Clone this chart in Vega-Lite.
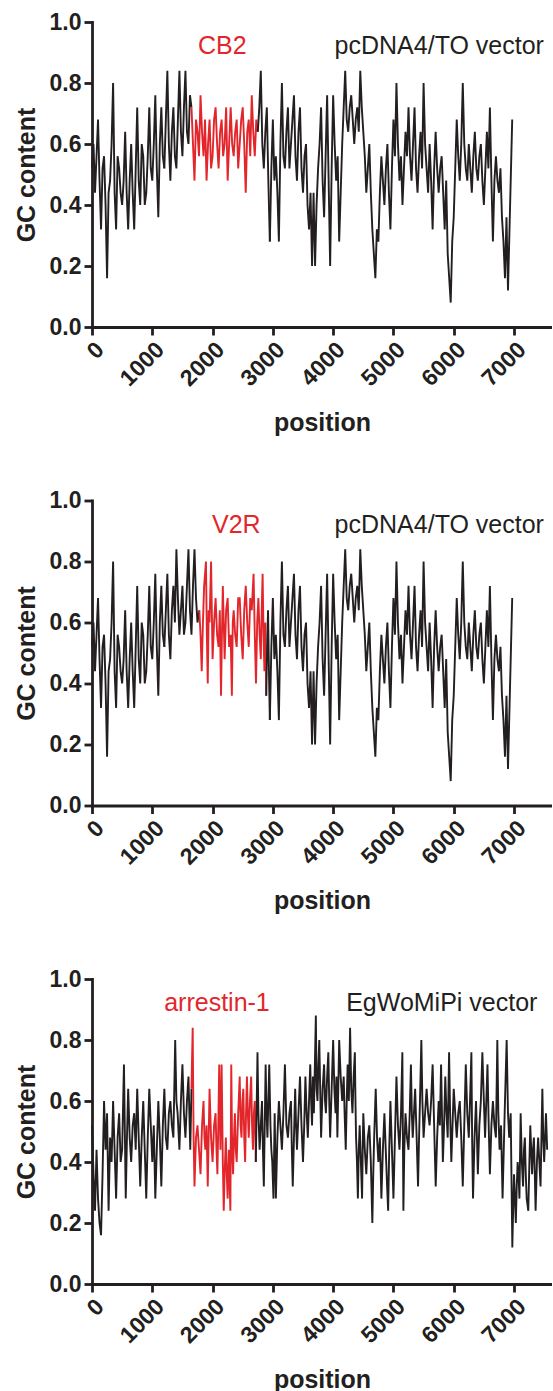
{
  "$schema": "https://vega.github.io/schema/vega-lite/v6.json",
  "padding": {"left": 14, "top": 11, "right": 0, "bottom": 0},
  "bounds": "flush",
  "spacing": 173.5,
  "config": {
    "font": "Liberation Sans",
    "view": {"stroke": null},
    "axis": {
      "grid": false,
      "domainColor": "#231f20", "domainWidth": 2.8, "domainCap": "square",
      "tickColor": "#231f20", "tickWidth": 2.8, "tickSize": 8,
      "labelFont": "Liberation Sans", "labelFontWeight": "bold", "labelFontSize": 23, "labelColor": "#231f20", "labelPadding": 3,
      "titleFont": "Liberation Sans", "titleFontWeight": "bold", "titleFontSize": 25, "titleColor": "#231f20"
    }
  },
  "datasets": {
    "pcHead": [
      {"x":0,"y":0.52,"s":"a"},{"x":25,"y":0.6,"s":"a"},{"x":50,"y":0.44,"s":"a"},{"x":75,"y":0.56,"s":"a"},{"x":100,"y":0.68,"s":"a"},{"x":125,"y":0.48,"s":"a"},{"x":150,"y":0.32,"s":"a"},{"x":175,"y":0.52,"s":"a"},{"x":200,"y":0.56,"s":"a"},{"x":225,"y":0.4,"s":"a"},{"x":250,"y":0.16,"s":"a"},{"x":275,"y":0.44,"s":"a"},{"x":300,"y":0.48,"s":"a"},{"x":325,"y":0.6,"s":"a"},{"x":350,"y":0.8,"s":"a"},{"x":375,"y":0.44,"s":"a"},{"x":400,"y":0.32,"s":"a"},{"x":425,"y":0.56,"s":"a"},{"x":450,"y":0.52,"s":"a"},{"x":475,"y":0.44,"s":"a"},{"x":500,"y":0.4,"s":"a"},{"x":525,"y":0.48,"s":"a"},{"x":550,"y":0.64,"s":"a"},{"x":575,"y":0.44,"s":"a"},{"x":600,"y":0.32,"s":"a"},{"x":625,"y":0.48,"s":"a"},{"x":650,"y":0.6,"s":"a"},{"x":675,"y":0.44,"s":"a"},{"x":700,"y":0.32,"s":"a"},{"x":725,"y":0.52,"s":"a"},{"x":750,"y":0.72,"s":"a"},{"x":775,"y":0.48,"s":"a"},{"x":800,"y":0.4,"s":"a"},{"x":825,"y":0.6,"s":"a"},{"x":850,"y":0.56,"s":"a"},{"x":875,"y":0.4,"s":"a"},{"x":900,"y":0.44,"s":"a"},{"x":925,"y":0.56,"s":"a"},{"x":950,"y":0.72,"s":"a"},{"x":975,"y":0.52,"s":"a"},{"x":1000,"y":0.48,"s":"a"},{"x":1025,"y":0.6,"s":"a"},{"x":1050,"y":0.76,"s":"a"},{"x":1075,"y":0.52,"s":"a"},{"x":1100,"y":0.36,"s":"a"},{"x":1125,"y":0.6,"s":"a"},{"x":1150,"y":0.72,"s":"a"},{"x":1175,"y":0.56,"s":"a"},{"x":1200,"y":0.52,"s":"a"}
    ],
    "cb2Mid": [
      {"x":1200,"y":0.52,"s":"a"},{"x":1225,"y":0.68,"s":"a"},{"x":1250,"y":0.84,"s":"a"},{"x":1275,"y":0.6,"s":"a"},{"x":1300,"y":0.48,"s":"a"},{"x":1325,"y":0.64,"s":"a"},{"x":1350,"y":0.72,"s":"a"},{"x":1375,"y":0.56,"s":"a"},{"x":1400,"y":0.52,"s":"a"},{"x":1425,"y":0.68,"s":"a"},{"x":1450,"y":0.84,"s":"a"},{"x":1475,"y":0.64,"s":"a"},{"x":1500,"y":0.56,"s":"a"},{"x":1525,"y":0.72,"s":"a"},{"x":1550,"y":0.84,"s":"a"},{"x":1575,"y":0.64,"s":"a"},{"x":1600,"y":0.6,"s":"a"},{"x":1625,"y":0.76,"s":"a"},{"x":1650,"y":0.72,"s":"a"},
      {"x":1650,"y":0.72,"s":"r"},{"x":1675,"y":0.6,"s":"r"},{"x":1700,"y":0.48,"s":"r"},{"x":1725,"y":0.68,"s":"r"},{"x":1750,"y":0.64,"s":"r"},{"x":1775,"y":0.56,"s":"r"},{"x":1800,"y":0.76,"s":"r"},{"x":1825,"y":0.64,"s":"r"},{"x":1850,"y":0.56,"s":"r"},{"x":1875,"y":0.68,"s":"r"},{"x":1900,"y":0.48,"s":"r"},{"x":1925,"y":0.6,"s":"r"},{"x":1950,"y":0.68,"s":"r"},{"x":1975,"y":0.52,"s":"r"},{"x":2000,"y":0.56,"s":"r"},{"x":2025,"y":0.68,"s":"r"},{"x":2050,"y":0.72,"s":"r"},{"x":2075,"y":0.6,"s":"r"},{"x":2100,"y":0.52,"s":"r"},{"x":2125,"y":0.64,"s":"r"},{"x":2150,"y":0.68,"s":"r"},{"x":2175,"y":0.56,"s":"r"},{"x":2200,"y":0.6,"s":"r"},{"x":2225,"y":0.72,"s":"r"},{"x":2250,"y":0.48,"s":"r"},{"x":2275,"y":0.6,"s":"r"},{"x":2300,"y":0.72,"s":"r"},{"x":2325,"y":0.6,"s":"r"},{"x":2350,"y":0.56,"s":"r"},{"x":2375,"y":0.64,"s":"r"},{"x":2400,"y":0.68,"s":"r"},{"x":2425,"y":0.52,"s":"r"},{"x":2450,"y":0.6,"s":"r"},{"x":2475,"y":0.68,"s":"r"},{"x":2500,"y":0.72,"s":"r"},{"x":2525,"y":0.6,"s":"r"},{"x":2550,"y":0.44,"s":"r"},{"x":2575,"y":0.64,"s":"r"},{"x":2600,"y":0.68,"s":"r"},{"x":2625,"y":0.56,"s":"r"},{"x":2650,"y":0.76,"s":"r"},{"x":2675,"y":0.64,"s":"r"},{"x":2700,"y":0.56,"s":"r"},{"x":2725,"y":0.68,"s":"r"},{"x":2750,"y":0.64,"s":"r"},
      {"x":2750,"y":0.64,"s":"b"},{"x":2775,"y":0.72,"s":"b"},{"x":2800,"y":0.84,"s":"b"},{"x":2825,"y":0.6,"s":"b"},{"x":2850,"y":0.52,"s":"b"},{"x":2875,"y":0.64,"s":"b"},{"x":2900,"y":0.72,"s":"b"},{"x":2925,"y":0.48,"s":"b"},{"x":2950,"y":0.28,"s":"b"}
    ],
    "v2rMid": [
      {"x":1200,"y":0.52,"s":"a"},{"x":1225,"y":0.64,"s":"a"},{"x":1250,"y":0.76,"s":"a"},{"x":1275,"y":0.56,"s":"a"},{"x":1300,"y":0.48,"s":"a"},{"x":1325,"y":0.64,"s":"a"},{"x":1350,"y":0.72,"s":"a"},{"x":1375,"y":0.6,"s":"a"},{"x":1400,"y":0.84,"s":"a"},{"x":1425,"y":0.68,"s":"a"},{"x":1450,"y":0.56,"s":"a"},{"x":1475,"y":0.64,"s":"a"},{"x":1500,"y":0.72,"s":"a"},{"x":1525,"y":0.56,"s":"a"},{"x":1550,"y":0.6,"s":"a"},{"x":1575,"y":0.72,"s":"a"},{"x":1600,"y":0.84,"s":"a"},{"x":1625,"y":0.64,"s":"a"},{"x":1650,"y":0.56,"s":"a"},{"x":1675,"y":0.72,"s":"a"},{"x":1700,"y":0.84,"s":"a"},{"x":1725,"y":0.68,"s":"a"},{"x":1750,"y":0.6,"s":"a"},{"x":1780,"y":0.64,"s":"a"},
      {"x":1780,"y":0.64,"s":"r"},{"x":1800,"y":0.56,"s":"r"},{"x":1820,"y":0.44,"s":"r"},{"x":1840,"y":0.6,"s":"r"},{"x":1860,"y":0.72,"s":"r"},{"x":1890,"y":0.8,"s":"r"},{"x":1905,"y":0.56,"s":"r"},{"x":1920,"y":0.4,"s":"r"},{"x":1935,"y":0.64,"s":"r"},{"x":1950,"y":0.6,"s":"r"},{"x":1975,"y":0.8,"s":"r"},{"x":2000,"y":0.48,"s":"r"},{"x":2025,"y":0.6,"s":"r"},{"x":2050,"y":0.68,"s":"r"},{"x":2075,"y":0.56,"s":"r"},{"x":2100,"y":0.52,"s":"r"},{"x":2120,"y":0.64,"s":"r"},{"x":2140,"y":0.36,"s":"r"},{"x":2155,"y":0.56,"s":"r"},{"x":2170,"y":0.72,"s":"r"},{"x":2185,"y":0.6,"s":"r"},{"x":2200,"y":0.48,"s":"r"},{"x":2225,"y":0.64,"s":"r"},{"x":2250,"y":0.68,"s":"r"},{"x":2275,"y":0.52,"s":"r"},{"x":2300,"y":0.56,"s":"r"},{"x":2320,"y":0.36,"s":"r"},{"x":2335,"y":0.6,"s":"r"},{"x":2350,"y":0.64,"s":"r"},{"x":2375,"y":0.56,"s":"r"},{"x":2400,"y":0.52,"s":"r"},{"x":2425,"y":0.68,"s":"r"},{"x":2450,"y":0.68,"s":"r"},{"x":2475,"y":0.56,"s":"r"},{"x":2500,"y":0.48,"s":"r"},{"x":2525,"y":0.64,"s":"r"},{"x":2550,"y":0.72,"s":"r"},{"x":2575,"y":0.6,"s":"r"},{"x":2600,"y":0.52,"s":"r"},{"x":2625,"y":0.68,"s":"r"},{"x":2650,"y":0.64,"s":"r"},{"x":2680,"y":0.76,"s":"r"},{"x":2700,"y":0.56,"s":"r"},{"x":2720,"y":0.4,"s":"r"},{"x":2740,"y":0.6,"s":"r"},{"x":2760,"y":0.68,"s":"r"},{"x":2780,"y":0.56,"s":"r"},{"x":2800,"y":0.48,"s":"r"},{"x":2815,"y":0.64,"s":"r"},{"x":2830,"y":0.76,"s":"r"},{"x":2845,"y":0.56,"s":"r"},{"x":2860,"y":0.44,"s":"r"},{"x":2875,"y":0.6,"s":"r"},{"x":2890,"y":0.36,"s":"r"},
      {"x":2890,"y":0.36,"s":"b"},{"x":2905,"y":0.52,"s":"b"},{"x":2920,"y":0.64,"s":"b"},{"x":2935,"y":0.44,"s":"b"},{"x":2950,"y":0.28,"s":"b"}
    ],
    "pcTail": [
      {"x":2950,"y":0.28,"s":"b"},{"x":2975,"y":0.52,"s":"b"},{"x":3000,"y":0.68,"s":"b"},{"x":3025,"y":0.48,"s":"b"},{"x":3050,"y":0.56,"s":"b"},{"x":3075,"y":0.44,"s":"b"},{"x":3100,"y":0.28,"s":"b"},{"x":3125,"y":0.6,"s":"b"},{"x":3150,"y":0.8,"s":"b"},{"x":3175,"y":0.56,"s":"b"},{"x":3200,"y":0.52,"s":"b"},{"x":3225,"y":0.64,"s":"b"},{"x":3250,"y":0.72,"s":"b"},{"x":3275,"y":0.52,"s":"b"},{"x":3300,"y":0.6,"s":"b"},{"x":3325,"y":0.68,"s":"b"},{"x":3350,"y":0.76,"s":"b"},{"x":3375,"y":0.56,"s":"b"},{"x":3400,"y":0.48,"s":"b"},{"x":3425,"y":0.64,"s":"b"},{"x":3450,"y":0.72,"s":"b"},{"x":3475,"y":0.52,"s":"b"},{"x":3500,"y":0.44,"s":"b"},{"x":3525,"y":0.56,"s":"b"},{"x":3550,"y":0.6,"s":"b"},{"x":3575,"y":0.4,"s":"b"},{"x":3600,"y":0.32,"s":"b"},{"x":3625,"y":0.44,"s":"b"},{"x":3650,"y":0.2,"s":"b"},{"x":3675,"y":0.44,"s":"b"},{"x":3700,"y":0.2,"s":"b"},{"x":3725,"y":0.4,"s":"b"},{"x":3750,"y":0.52,"s":"b"},{"x":3775,"y":0.6,"s":"b"},{"x":3800,"y":0.72,"s":"b"},{"x":3825,"y":0.48,"s":"b"},{"x":3850,"y":0.36,"s":"b"},{"x":3875,"y":0.56,"s":"b"},{"x":3900,"y":0.76,"s":"b"},{"x":3925,"y":0.48,"s":"b"},{"x":3950,"y":0.2,"s":"b"},{"x":3975,"y":0.52,"s":"b"},{"x":4000,"y":0.76,"s":"b"},{"x":4025,"y":0.6,"s":"b"},{"x":4050,"y":0.48,"s":"b"},{"x":4075,"y":0.56,"s":"b"},{"x":4100,"y":0.28,"s":"b"},{"x":4125,"y":0.44,"s":"b"},{"x":4150,"y":0.6,"s":"b"},{"x":4175,"y":0.72,"s":"b"},{"x":4200,"y":0.84,"s":"b"},{"x":4225,"y":0.68,"s":"b"},{"x":4250,"y":0.64,"s":"b"},{"x":4275,"y":0.72,"s":"b"},{"x":4300,"y":0.76,"s":"b"},{"x":4325,"y":0.68,"s":"b"},{"x":4350,"y":0.6,"s":"b"},{"x":4375,"y":0.68,"s":"b"},{"x":4400,"y":0.72,"s":"b"},{"x":4425,"y":0.64,"s":"b"},{"x":4450,"y":0.84,"s":"b"},{"x":4475,"y":0.72,"s":"b"},{"x":4500,"y":0.64,"s":"b"},{"x":4525,"y":0.56,"s":"b"},{"x":4550,"y":0.44,"s":"b"},{"x":4575,"y":0.52,"s":"b"},{"x":4600,"y":0.6,"s":"b"},{"x":4625,"y":0.44,"s":"b"},{"x":4650,"y":0.32,"s":"b"},{"x":4675,"y":0.24,"s":"b"},{"x":4700,"y":0.16,"s":"b"},{"x":4725,"y":0.32,"s":"b"},{"x":4750,"y":0.28,"s":"b"},{"x":4775,"y":0.44,"s":"b"},{"x":4800,"y":0.56,"s":"b"},{"x":4825,"y":0.48,"s":"b"},{"x":4850,"y":0.4,"s":"b"},{"x":4875,"y":0.52,"s":"b"},{"x":4900,"y":0.6,"s":"b"},{"x":4925,"y":0.44,"s":"b"},{"x":4950,"y":0.32,"s":"b"},{"x":4975,"y":0.52,"s":"b"},{"x":5000,"y":0.68,"s":"b"},{"x":5025,"y":0.56,"s":"b"},{"x":5050,"y":0.8,"s":"b"},{"x":5075,"y":0.6,"s":"b"},{"x":5100,"y":0.48,"s":"b"},{"x":5125,"y":0.56,"s":"b"},{"x":5150,"y":0.4,"s":"b"},{"x":5175,"y":0.52,"s":"b"},{"x":5200,"y":0.64,"s":"b"},{"x":5225,"y":0.56,"s":"b"},{"x":5250,"y":0.72,"s":"b"},{"x":5275,"y":0.56,"s":"b"},{"x":5300,"y":0.48,"s":"b"},{"x":5325,"y":0.6,"s":"b"},{"x":5350,"y":0.72,"s":"b"},{"x":5375,"y":0.52,"s":"b"},{"x":5400,"y":0.44,"s":"b"},{"x":5425,"y":0.56,"s":"b"},{"x":5450,"y":0.64,"s":"b"},{"x":5475,"y":0.52,"s":"b"},{"x":5500,"y":0.8,"s":"b"},{"x":5525,"y":0.6,"s":"b"},{"x":5550,"y":0.52,"s":"b"},{"x":5575,"y":0.44,"s":"b"},{"x":5600,"y":0.6,"s":"b"},{"x":5625,"y":0.48,"s":"b"},{"x":5650,"y":0.32,"s":"b"},{"x":5675,"y":0.52,"s":"b"},{"x":5700,"y":0.64,"s":"b"},{"x":5725,"y":0.52,"s":"b"},{"x":5750,"y":0.44,"s":"b"},{"x":5775,"y":0.52,"s":"b"},{"x":5800,"y":0.56,"s":"b"},{"x":5825,"y":0.44,"s":"b"},{"x":5850,"y":0.32,"s":"b"},{"x":5875,"y":0.48,"s":"b"},{"x":5900,"y":0.24,"s":"b"},{"x":5925,"y":0.16,"s":"b"},{"x":5950,"y":0.08,"s":"b"},{"x":5975,"y":0.28,"s":"b"},{"x":6000,"y":0.36,"s":"b"},{"x":6025,"y":0.52,"s":"b"},{"x":6050,"y":0.68,"s":"b"},{"x":6075,"y":0.56,"s":"b"},{"x":6100,"y":0.48,"s":"b"},{"x":6125,"y":0.6,"s":"b"},{"x":6150,"y":0.8,"s":"b"},{"x":6175,"y":0.6,"s":"b"},{"x":6200,"y":0.52,"s":"b"},{"x":6225,"y":0.48,"s":"b"},{"x":6250,"y":0.6,"s":"b"},{"x":6275,"y":0.52,"s":"b"},{"x":6300,"y":0.44,"s":"b"},{"x":6325,"y":0.56,"s":"b"},{"x":6350,"y":0.64,"s":"b"},{"x":6375,"y":0.52,"s":"b"},{"x":6400,"y":0.48,"s":"b"},{"x":6425,"y":0.56,"s":"b"},{"x":6450,"y":0.6,"s":"b"},{"x":6475,"y":0.48,"s":"b"},{"x":6500,"y":0.4,"s":"b"},{"x":6525,"y":0.52,"s":"b"},{"x":6550,"y":0.64,"s":"b"},{"x":6575,"y":0.52,"s":"b"},{"x":6600,"y":0.72,"s":"b"},{"x":6625,"y":0.48,"s":"b"},{"x":6650,"y":0.28,"s":"b"},{"x":6675,"y":0.48,"s":"b"},{"x":6700,"y":0.56,"s":"b"},{"x":6725,"y":0.48,"s":"b"},{"x":6750,"y":0.44,"s":"b"},{"x":6775,"y":0.52,"s":"b"},{"x":6800,"y":0.36,"s":"b"},{"x":6825,"y":0.28,"s":"b"},{"x":6850,"y":0.16,"s":"b"},{"x":6875,"y":0.36,"s":"b"},{"x":6900,"y":0.12,"s":"b"},{"x":6925,"y":0.32,"s":"b"},{"x":6950,"y":0.52,"s":"b"},{"x":6970,"y":0.68,"s":"b"}
    ],
    "arr": [
      {"x":0,"y":0.52,"s":"a"},{"x":25,"y":0.36,"s":"a"},{"x":50,"y":0.24,"s":"a"},{"x":75,"y":0.44,"s":"a"},{"x":100,"y":0.28,"s":"a"},{"x":125,"y":0.2,"s":"a"},{"x":150,"y":0.16,"s":"a"},{"x":175,"y":0.36,"s":"a"},{"x":200,"y":0.6,"s":"a"},{"x":225,"y":0.44,"s":"a"},{"x":250,"y":0.56,"s":"a"},{"x":275,"y":0.24,"s":"a"},{"x":300,"y":0.48,"s":"a"},{"x":325,"y":0.4,"s":"a"},{"x":350,"y":0.6,"s":"a"},{"x":375,"y":0.44,"s":"a"},{"x":400,"y":0.28,"s":"a"},{"x":425,"y":0.48,"s":"a"},{"x":450,"y":0.56,"s":"a"},{"x":475,"y":0.4,"s":"a"},{"x":500,"y":0.44,"s":"a"},{"x":530,"y":0.72,"s":"a"},{"x":560,"y":0.28,"s":"a"},{"x":580,"y":0.48,"s":"a"},{"x":600,"y":0.64,"s":"a"},{"x":625,"y":0.48,"s":"a"},{"x":650,"y":0.4,"s":"a"},{"x":675,"y":0.52,"s":"a"},{"x":700,"y":0.56,"s":"a"},{"x":725,"y":0.44,"s":"a"},{"x":750,"y":0.64,"s":"a"},{"x":775,"y":0.48,"s":"a"},{"x":800,"y":0.32,"s":"a"},{"x":825,"y":0.48,"s":"a"},{"x":850,"y":0.6,"s":"a"},{"x":875,"y":0.44,"s":"a"},{"x":900,"y":0.28,"s":"a"},{"x":925,"y":0.48,"s":"a"},{"x":950,"y":0.64,"s":"a"},{"x":975,"y":0.52,"s":"a"},{"x":1000,"y":0.4,"s":"a"},{"x":1025,"y":0.52,"s":"a"},{"x":1050,"y":0.28,"s":"a"},{"x":1075,"y":0.44,"s":"a"},{"x":1100,"y":0.6,"s":"a"},{"x":1125,"y":0.48,"s":"a"},{"x":1150,"y":0.32,"s":"a"},{"x":1175,"y":0.52,"s":"a"},{"x":1200,"y":0.64,"s":"a"},{"x":1225,"y":0.48,"s":"a"},{"x":1250,"y":0.44,"s":"a"},{"x":1275,"y":0.56,"s":"a"},{"x":1300,"y":0.6,"s":"a"},{"x":1325,"y":0.52,"s":"a"},{"x":1350,"y":0.48,"s":"a"},{"x":1380,"y":0.8,"s":"a"},{"x":1400,"y":0.6,"s":"a"},{"x":1420,"y":0.56,"s":"a"},{"x":1450,"y":0.44,"s":"a"},{"x":1475,"y":0.6,"s":"a"},{"x":1500,"y":0.72,"s":"a"},{"x":1525,"y":0.56,"s":"a"},{"x":1550,"y":0.48,"s":"a"},{"x":1575,"y":0.6,"s":"a"},{"x":1600,"y":0.68,"s":"a"},{"x":1630,"y":0.44,"s":"a"},{"x":1650,"y":0.64,"s":"a"},
      {"x":1650,"y":0.64,"s":"r"},{"x":1670,"y":0.84,"s":"r"},{"x":1685,"y":0.48,"s":"r"},{"x":1700,"y":0.32,"s":"r"},{"x":1725,"y":0.48,"s":"r"},{"x":1750,"y":0.52,"s":"r"},{"x":1775,"y":0.44,"s":"r"},{"x":1800,"y":0.36,"s":"r"},{"x":1825,"y":0.52,"s":"r"},{"x":1850,"y":0.6,"s":"r"},{"x":1865,"y":0.48,"s":"r"},{"x":1880,"y":0.44,"s":"r"},{"x":1900,"y":0.52,"s":"r"},{"x":1920,"y":0.32,"s":"r"},{"x":1935,"y":0.48,"s":"r"},{"x":1950,"y":0.64,"s":"r"},{"x":1975,"y":0.48,"s":"r"},{"x":2000,"y":0.4,"s":"r"},{"x":2025,"y":0.52,"s":"r"},{"x":2050,"y":0.56,"s":"r"},{"x":2065,"y":0.44,"s":"r"},{"x":2080,"y":0.36,"s":"r"},{"x":2095,"y":0.52,"s":"r"},{"x":2110,"y":0.72,"s":"r"},{"x":2130,"y":0.44,"s":"r"},{"x":2150,"y":0.72,"s":"r"},{"x":2170,"y":0.4,"s":"r"},{"x":2185,"y":0.24,"s":"r"},{"x":2200,"y":0.36,"s":"r"},{"x":2220,"y":0.48,"s":"r"},{"x":2235,"y":0.36,"s":"r"},{"x":2250,"y":0.28,"s":"r"},{"x":2270,"y":0.44,"s":"r"},{"x":2285,"y":0.32,"s":"r"},{"x":2295,"y":0.24,"s":"r"},{"x":2310,"y":0.72,"s":"r"},{"x":2325,"y":0.44,"s":"r"},{"x":2340,"y":0.36,"s":"r"},{"x":2355,"y":0.48,"s":"r"},{"x":2370,"y":0.56,"s":"r"},{"x":2385,"y":0.44,"s":"r"},{"x":2400,"y":0.4,"s":"r"},{"x":2425,"y":0.56,"s":"r"},{"x":2450,"y":0.68,"s":"r"},{"x":2465,"y":0.52,"s":"r"},{"x":2480,"y":0.48,"s":"r"},{"x":2495,"y":0.6,"s":"r"},{"x":2510,"y":0.64,"s":"r"},{"x":2525,"y":0.48,"s":"r"},{"x":2540,"y":0.4,"s":"r"},{"x":2555,"y":0.56,"s":"r"},{"x":2570,"y":0.68,"s":"r"},{"x":2585,"y":0.56,"s":"r"},{"x":2600,"y":0.48,"s":"r"},{"x":2620,"y":0.6,"s":"r"},{"x":2640,"y":0.68,"s":"r"},{"x":2655,"y":0.52,"s":"r"},{"x":2670,"y":0.44,"s":"r"},{"x":2685,"y":0.56,"s":"r"},{"x":2700,"y":0.6,"s":"r"},{"x":2717,"y":0.4,"s":"r"},
      {"x":2717,"y":0.4,"s":"b"},{"x":2745,"y":0.76,"s":"b"},{"x":2760,"y":0.56,"s":"b"},{"x":2780,"y":0.44,"s":"b"},{"x":2800,"y":0.52,"s":"b"},{"x":2820,"y":0.6,"s":"b"},{"x":2835,"y":0.44,"s":"b"},{"x":2850,"y":0.32,"s":"b"},{"x":2865,"y":0.52,"s":"b"},{"x":2880,"y":0.72,"s":"b"},{"x":2895,"y":0.56,"s":"b"},{"x":2910,"y":0.48,"s":"b"},{"x":2925,"y":0.6,"s":"b"},{"x":2940,"y":0.72,"s":"b"},{"x":2960,"y":0.52,"s":"b"},{"x":2975,"y":0.44,"s":"b"},{"x":2990,"y":0.4,"s":"b"},{"x":3010,"y":0.28,"s":"b"},{"x":3030,"y":0.56,"s":"b"},{"x":3050,"y":0.28,"s":"b"},{"x":3075,"y":0.48,"s":"b"},{"x":3100,"y":0.6,"s":"b"},{"x":3125,"y":0.52,"s":"b"},{"x":3150,"y":0.44,"s":"b"},{"x":3175,"y":0.56,"s":"b"},{"x":3200,"y":0.72,"s":"b"},{"x":3225,"y":0.52,"s":"b"},{"x":3250,"y":0.48,"s":"b"},{"x":3275,"y":0.56,"s":"b"},{"x":3300,"y":0.6,"s":"b"},{"x":3315,"y":0.44,"s":"b"},{"x":3330,"y":0.32,"s":"b"},{"x":3350,"y":0.48,"s":"b"},{"x":3370,"y":0.64,"s":"b"},{"x":3385,"y":0.52,"s":"b"},{"x":3400,"y":0.44,"s":"b"},{"x":3425,"y":0.56,"s":"b"},{"x":3450,"y":0.68,"s":"b"},{"x":3475,"y":0.52,"s":"b"},{"x":3500,"y":0.4,"s":"b"},{"x":3520,"y":0.52,"s":"b"},{"x":3540,"y":0.68,"s":"b"},{"x":3560,"y":0.56,"s":"b"},{"x":3580,"y":0.48,"s":"b"},{"x":3600,"y":0.6,"s":"b"},{"x":3620,"y":0.72,"s":"b"},{"x":3635,"y":0.6,"s":"b"},{"x":3650,"y":0.52,"s":"b"},{"x":3665,"y":0.68,"s":"b"},{"x":3680,"y":0.56,"s":"b"},{"x":3697,"y":0.72,"s":"b"},{"x":3713,"y":0.88,"s":"b"},{"x":3725,"y":0.64,"s":"b"},{"x":3740,"y":0.6,"s":"b"},{"x":3755,"y":0.72,"s":"b"},{"x":3770,"y":0.8,"s":"b"},{"x":3785,"y":0.64,"s":"b"},{"x":3800,"y":0.48,"s":"b"},{"x":3825,"y":0.64,"s":"b"},{"x":3850,"y":0.72,"s":"b"},{"x":3865,"y":0.6,"s":"b"},{"x":3880,"y":0.56,"s":"b"},{"x":3900,"y":0.68,"s":"b"},{"x":3920,"y":0.76,"s":"b"},{"x":3935,"y":0.6,"s":"b"},{"x":3950,"y":0.48,"s":"b"},{"x":3975,"y":0.64,"s":"b"},{"x":4000,"y":0.8,"s":"b"},{"x":4020,"y":0.64,"s":"b"},{"x":4040,"y":0.56,"s":"b"},{"x":4055,"y":0.68,"s":"b"},{"x":4070,"y":0.48,"s":"b"},{"x":4085,"y":0.64,"s":"b"},{"x":4100,"y":0.8,"s":"b"},{"x":4125,"y":0.68,"s":"b"},{"x":4150,"y":0.6,"s":"b"},{"x":4175,"y":0.68,"s":"b"},{"x":4190,"y":0.56,"s":"b"},{"x":4209,"y":0.44,"s":"b"},{"x":4225,"y":0.6,"s":"b"},{"x":4240,"y":0.72,"s":"b"},{"x":4260,"y":0.6,"s":"b"},{"x":4281,"y":0.84,"s":"b"},{"x":4300,"y":0.64,"s":"b"},{"x":4320,"y":0.56,"s":"b"},{"x":4340,"y":0.68,"s":"b"},{"x":4360,"y":0.76,"s":"b"},{"x":4370,"y":0.6,"s":"b"},{"x":4380,"y":0.48,"s":"b"},{"x":4395,"y":0.4,"s":"b"},{"x":4410,"y":0.28,"s":"b"},{"x":4425,"y":0.44,"s":"b"},{"x":4440,"y":0.52,"s":"b"},{"x":4460,"y":0.4,"s":"b"},{"x":4480,"y":0.28,"s":"b"},{"x":4490,"y":0.44,"s":"b"},{"x":4500,"y":0.56,"s":"b"},{"x":4525,"y":0.44,"s":"b"},{"x":4550,"y":0.36,"s":"b"},{"x":4575,"y":0.48,"s":"b"},{"x":4600,"y":0.52,"s":"b"},{"x":4625,"y":0.4,"s":"b"},{"x":4650,"y":0.2,"s":"b"},{"x":4665,"y":0.36,"s":"b"},{"x":4680,"y":0.48,"s":"b"},{"x":4693,"y":0.56,"s":"b"},{"x":4706,"y":0.64,"s":"b"},{"x":4728,"y":0.48,"s":"b"},{"x":4750,"y":0.4,"s":"b"},{"x":4775,"y":0.48,"s":"b"},{"x":4800,"y":0.28,"s":"b"},{"x":4825,"y":0.44,"s":"b"},{"x":4850,"y":0.56,"s":"b"},{"x":4865,"y":0.48,"s":"b"},{"x":4880,"y":0.4,"s":"b"},{"x":4895,"y":0.32,"s":"b"},{"x":4912,"y":0.24,"s":"b"},{"x":4930,"y":0.44,"s":"b"},{"x":4950,"y":0.6,"s":"b"},{"x":4975,"y":0.44,"s":"b"},{"x":5000,"y":0.28,"s":"b"},{"x":5025,"y":0.48,"s":"b"},{"x":5050,"y":0.68,"s":"b"},{"x":5075,"y":0.52,"s":"b"},{"x":5100,"y":0.44,"s":"b"},{"x":5125,"y":0.56,"s":"b"},{"x":5148,"y":0.76,"s":"b"},{"x":5165,"y":0.24,"s":"b"},{"x":5180,"y":0.44,"s":"b"},{"x":5200,"y":0.56,"s":"b"},{"x":5225,"y":0.48,"s":"b"},{"x":5250,"y":0.44,"s":"b"},{"x":5270,"y":0.56,"s":"b"},{"x":5290,"y":0.72,"s":"b"},{"x":5305,"y":0.56,"s":"b"},{"x":5320,"y":0.48,"s":"b"},{"x":5340,"y":0.56,"s":"b"},{"x":5360,"y":0.64,"s":"b"},{"x":5385,"y":0.48,"s":"b"},{"x":5408,"y":0.32,"s":"b"},{"x":5425,"y":0.48,"s":"b"},{"x":5440,"y":0.6,"s":"b"},{"x":5463,"y":0.8,"s":"b"},{"x":5480,"y":0.6,"s":"b"},{"x":5500,"y":0.48,"s":"b"},{"x":5525,"y":0.56,"s":"b"},{"x":5550,"y":0.64,"s":"b"},{"x":5575,"y":0.56,"s":"b"},{"x":5600,"y":0.52,"s":"b"},{"x":5625,"y":0.6,"s":"b"},{"x":5650,"y":0.72,"s":"b"},{"x":5675,"y":0.52,"s":"b"},{"x":5701,"y":0.32,"s":"b"},{"x":5725,"y":0.48,"s":"b"},{"x":5750,"y":0.6,"s":"b"},{"x":5770,"y":0.52,"s":"b"},{"x":5790,"y":0.72,"s":"b"},{"x":5805,"y":0.56,"s":"b"},{"x":5820,"y":0.4,"s":"b"},{"x":5840,"y":0.52,"s":"b"},{"x":5860,"y":0.68,"s":"b"},{"x":5880,"y":0.56,"s":"b"},{"x":5900,"y":0.48,"s":"b"},{"x":5923,"y":0.76,"s":"b"},{"x":5940,"y":0.56,"s":"b"},{"x":5960,"y":0.4,"s":"b"},{"x":5980,"y":0.52,"s":"b"},{"x":6000,"y":0.64,"s":"b"},{"x":6025,"y":0.56,"s":"b"},{"x":6050,"y":0.48,"s":"b"},{"x":6075,"y":0.56,"s":"b"},{"x":6100,"y":0.6,"s":"b"},{"x":6125,"y":0.48,"s":"b"},{"x":6150,"y":0.32,"s":"b"},{"x":6175,"y":0.52,"s":"b"},{"x":6200,"y":0.72,"s":"b"},{"x":6225,"y":0.56,"s":"b"},{"x":6250,"y":0.48,"s":"b"},{"x":6270,"y":0.6,"s":"b"},{"x":6293,"y":0.76,"s":"b"},{"x":6305,"y":0.48,"s":"b"},{"x":6320,"y":0.28,"s":"b"},{"x":6345,"y":0.48,"s":"b"},{"x":6370,"y":0.6,"s":"b"},{"x":6385,"y":0.48,"s":"b"},{"x":6400,"y":0.36,"s":"b"},{"x":6425,"y":0.52,"s":"b"},{"x":6450,"y":0.6,"s":"b"},{"x":6475,"y":0.76,"s":"b"},{"x":6500,"y":0.6,"s":"b"},{"x":6520,"y":0.48,"s":"b"},{"x":6540,"y":0.6,"s":"b"},{"x":6560,"y":0.72,"s":"b"},{"x":6580,"y":0.52,"s":"b"},{"x":6600,"y":0.36,"s":"b"},{"x":6625,"y":0.52,"s":"b"},{"x":6650,"y":0.6,"s":"b"},{"x":6675,"y":0.52,"s":"b"},{"x":6700,"y":0.48,"s":"b"},{"x":6723,"y":0.8,"s":"b"},{"x":6740,"y":0.56,"s":"b"},{"x":6760,"y":0.44,"s":"b"},{"x":6785,"y":0.52,"s":"b"},{"x":6810,"y":0.28,"s":"b"},{"x":6830,"y":0.44,"s":"b"},{"x":6850,"y":0.6,"s":"b"},{"x":6878,"y":0.8,"s":"b"},{"x":6900,"y":0.56,"s":"b"},{"x":6920,"y":0.48,"s":"b"},{"x":6945,"y":0.56,"s":"b"},{"x":6972,"y":0.12,"s":"b"},{"x":6985,"y":0.24,"s":"b"},{"x":7000,"y":0.36,"s":"b"},{"x":7015,"y":0.28,"s":"b"},{"x":7030,"y":0.2,"s":"b"},{"x":7045,"y":0.32,"s":"b"},{"x":7060,"y":0.4,"s":"b"},{"x":7075,"y":0.36,"s":"b"},{"x":7090,"y":0.28,"s":"b"},{"x":7110,"y":0.56,"s":"b"},{"x":7130,"y":0.4,"s":"b"},{"x":7150,"y":0.32,"s":"b"},{"x":7165,"y":0.44,"s":"b"},{"x":7180,"y":0.48,"s":"b"},{"x":7195,"y":0.36,"s":"b"},{"x":7210,"y":0.28,"s":"b"},{"x":7237,"y":0.24,"s":"b"},{"x":7255,"y":0.4,"s":"b"},{"x":7270,"y":0.52,"s":"b"},{"x":7285,"y":0.44,"s":"b"},{"x":7300,"y":0.36,"s":"b"},{"x":7315,"y":0.44,"s":"b"},{"x":7330,"y":0.48,"s":"b"},{"x":7345,"y":0.36,"s":"b"},{"x":7358,"y":0.24,"s":"b"},{"x":7380,"y":0.4,"s":"b"},{"x":7400,"y":0.48,"s":"b"},{"x":7420,"y":0.4,"s":"b"},{"x":7440,"y":0.32,"s":"b"},{"x":7455,"y":0.48,"s":"b"},{"x":7470,"y":0.64,"s":"b"},{"x":7485,"y":0.48,"s":"b"},{"x":7500,"y":0.4,"s":"b"},{"x":7515,"y":0.48,"s":"b"},{"x":7530,"y":0.56,"s":"b"},{"x":7550,"y":0.44,"s":"b"}
    ]
  },
  "vconcat": [
    {
      "width": 460, "height": 305,
      "layer": [
        {
          "encoding": {
            "x": {"field": "x", "type": "quantitative", "scale": {"domain": [0, 7630], "nice": false}, "axis": {"values": [0,1000,2000,3000,4000,5000,6000,7000], "format": "d", "labelAngle": -45, "title": "position", "titlePadding": 20}},
            "y": {"field": "y", "type": "quantitative", "scale": {"domain": [0, 1], "nice": false}, "axis": {"values": [0,0.2,0.4,0.6,0.8,1], "format": ".1f", "title": "GC content", "titlePadding": 10}},
            "color": {"field": "s", "type": "nominal", "scale": {"domain": ["a","r","b"], "range": ["#231f20","#e3262b","#231f20"]}, "legend": null}
          },
          "layer": [
            {"data": {"name": "pcHead"}, "mark": {"type": "line", "strokeWidth": 1.9}},
            {"data": {"name": "cb2Mid"}, "mark": {"type": "line", "strokeWidth": 1.9}},
            {"data": {"name": "pcTail"}, "mark": {"type": "line", "strokeWidth": 1.9}}
          ]
        },
        {"data": {"values": [{}]}, "mark": {"type": "text", "fontSize": 25, "fontWeight": "normal", "color": "#e3262b"}, "encoding": {"x": {"datum": 2160, "type": "quantitative"}, "y": {"datum": 0.92, "type": "quantitative"}, "text": {"value": "CB2"}}},
        {"data": {"values": [{}]}, "mark": {"type": "text", "fontSize": 25, "fontWeight": "normal", "color": "#231f20"}, "encoding": {"x": {"datum": 5760, "type": "quantitative"}, "y": {"datum": 0.92, "type": "quantitative"}, "text": {"value": "pcDNA4/TO vector"}}}
      ]
    },
    {
      "width": 460, "height": 305,
      "layer": [
        {
          "encoding": {
            "x": {"field": "x", "type": "quantitative", "scale": {"domain": [0, 7630], "nice": false}, "axis": {"values": [0,1000,2000,3000,4000,5000,6000,7000], "format": "d", "labelAngle": -45, "title": "position", "titlePadding": 20}},
            "y": {"field": "y", "type": "quantitative", "scale": {"domain": [0, 1], "nice": false}, "axis": {"values": [0,0.2,0.4,0.6,0.8,1], "format": ".1f", "title": "GC content", "titlePadding": 10}},
            "color": {"field": "s", "type": "nominal", "scale": {"domain": ["a","r","b"], "range": ["#231f20","#e3262b","#231f20"]}, "legend": null}
          },
          "layer": [
            {"data": {"name": "pcHead"}, "mark": {"type": "line", "strokeWidth": 1.9}},
            {"data": {"name": "v2rMid"}, "mark": {"type": "line", "strokeWidth": 1.9}},
            {"data": {"name": "pcTail"}, "mark": {"type": "line", "strokeWidth": 1.9}}
          ]
        },
        {"data": {"values": [{}]}, "mark": {"type": "text", "fontSize": 25, "fontWeight": "normal", "color": "#e3262b"}, "encoding": {"x": {"datum": 2393, "type": "quantitative"}, "y": {"datum": 0.92, "type": "quantitative"}, "text": {"value": "V2R"}}},
        {"data": {"values": [{}]}, "mark": {"type": "text", "fontSize": 25, "fontWeight": "normal", "color": "#231f20"}, "encoding": {"x": {"datum": 5760, "type": "quantitative"}, "y": {"datum": 0.92, "type": "quantitative"}, "text": {"value": "pcDNA4/TO vector"}}}
      ]
    },
    {
      "width": 460, "height": 305,
      "layer": [
        {
          "data": {"name": "arr"},
          "mark": {"type": "line", "strokeWidth": 1.9},
          "encoding": {
            "x": {"field": "x", "type": "quantitative", "scale": {"domain": [0, 7630], "nice": false}, "axis": {"values": [0,1000,2000,3000,4000,5000,6000,7000], "format": "d", "labelAngle": -45, "title": "position", "titlePadding": 20}},
            "y": {"field": "y", "type": "quantitative", "scale": {"domain": [0, 1], "nice": false}, "axis": {"values": [0,0.2,0.4,0.6,0.8,1], "format": ".1f", "title": "GC content", "titlePadding": 10}},
            "color": {"field": "s", "type": "nominal", "scale": {"domain": ["a","r","b"], "range": ["#231f20","#e3262b","#231f20"]}, "legend": null}
          }
        },
        {"data": {"values": [{}]}, "mark": {"type": "text", "fontSize": 25, "fontWeight": "normal", "color": "#e3262b"}, "encoding": {"x": {"datum": 2073, "type": "quantitative"}, "y": {"datum": 0.92, "type": "quantitative"}, "text": {"value": "arrestin-1"}}},
        {"data": {"values": [{}]}, "mark": {"type": "text", "fontSize": 25, "fontWeight": "normal", "color": "#231f20"}, "encoding": {"x": {"datum": 5802, "type": "quantitative"}, "y": {"datum": 0.92, "type": "quantitative"}, "text": {"value": "EgWoMiPi vector"}}}
      ]
    }
  ]
}
